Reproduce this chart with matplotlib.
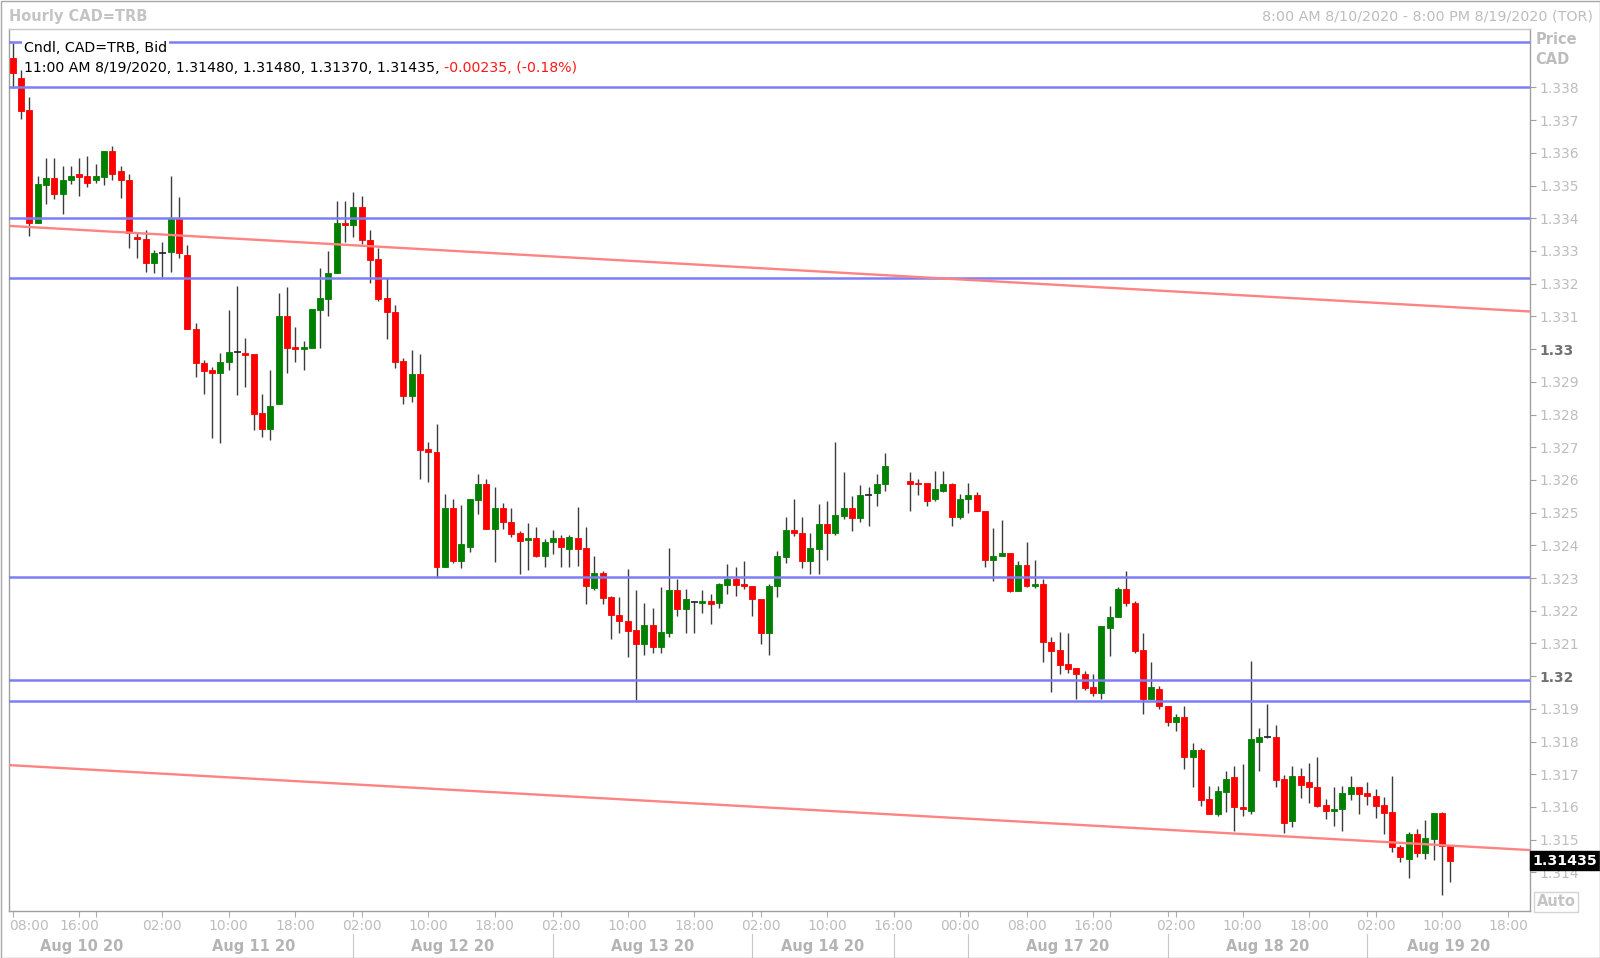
import matplotlib
matplotlib.use('Agg')
import matplotlib.pyplot as plt
from matplotlib.transforms import blended_transform_factory, ScaledTranslation
from matplotlib.lines import Line2D
from matplotlib.patches import Rectangle

plt.rcParams['font.family'] = ['DejaVu Sans']

W, H = 1600, 958

# hourly slot on the (weekend-compressed) time axis, 0 = 08:00 Aug 10 2020
slots = list(range(0, 106)) + list(range(108, 174))

opens = [
    1.33889, 1.33830, 1.33731, 1.33385, 1.33502, 1.33524, 1.33473, 1.33517, 1.33535, 1.33529,
    1.33517, 1.33527, 1.33606, 1.33545, 1.33517, 1.33343, 1.33337, 1.33262, 1.33295, 1.33298,
    1.33398, 1.33288, 1.33060, 1.32957, 1.32936, 1.32926, 1.32962, 1.32991, 1.32989, 1.32984,
    1.32804, 1.32756, 1.32831, 1.33102, 1.33006, 1.33001, 1.33004, 1.33121, 1.33153, 1.33232,
    1.33385, 1.33378, 1.33434, 1.33334, 1.33274, 1.33155, 1.33114, 1.32963, 1.32857, 1.32923,
    1.32693, 1.32686, 1.32333, 1.32515, 1.32353, 1.32394, 1.32538, 1.32589, 1.32450, 1.32513,
    1.32472, 1.32437, 1.32415, 1.32422, 1.32368, 1.32409, 1.32422, 1.32388, 1.32422, 1.32391,
    1.32268, 1.32314, 1.32243, 1.32187, 1.32168, 1.32141, 1.32098, 1.32155, 1.32090, 1.32133,
    1.32263, 1.32205, 1.32228, 1.32224, 1.32231, 1.32223, 1.32279, 1.32297, 1.32281, 1.32277,
    1.32236, 1.32131, 1.32276, 1.32365, 1.32447, 1.32437, 1.32352, 1.32389, 1.32465, 1.32437,
    1.32491, 1.32515, 1.32485, 1.32555, 1.32561, 1.32587,
    1.32597, 1.32592, 1.32590, 1.32541, 1.32567, 1.32587, 1.32486, 1.32541, 1.32554, 1.32506,
    1.32355, 1.32367, 1.32375, 1.32261, 1.32340, 1.32276, 1.32282, 1.32105, 1.32080, 1.32036,
    1.32024, 1.32005, 1.31968, 1.31949, 1.32146, 1.32180, 1.32265, 1.32225, 1.32080, 1.31929,
    1.31960, 1.31910, 1.31859, 1.31876, 1.31752, 1.31774, 1.31624, 1.31578, 1.31647, 1.31690,
    1.31601, 1.31588, 1.31799, 1.31815, 1.31815, 1.31684, 1.31558, 1.31696, 1.31675, 1.31662,
    1.31606, 1.31587, 1.31593, 1.31641, 1.31662, 1.31643, 1.31634, 1.31606, 1.31585, 1.31476,
    1.31441, 1.31516, 1.31460, 1.31502, 1.31580, 1.31480,
]
highs = [
    1.33935, 1.33855, 1.33770, 1.33529, 1.33585, 1.33585, 1.33560, 1.33560, 1.33585, 1.33590,
    1.33565, 1.33606, 1.33621, 1.33560, 1.33535, 1.33359, 1.33364, 1.33303, 1.33326, 1.33530,
    1.33465, 1.33318, 1.33081, 1.32967, 1.32946, 1.32989, 1.33121, 1.33193, 1.33033, 1.32984,
    1.32862, 1.32936, 1.33172, 1.33189, 1.33068, 1.33025, 1.33123, 1.33247, 1.33300, 1.33454,
    1.33454, 1.33479, 1.33468, 1.33364, 1.33308, 1.33216, 1.33135, 1.32972, 1.32997, 1.32984,
    1.32717, 1.32771, 1.32557, 1.32541, 1.32523, 1.32541, 1.32618, 1.32602, 1.32577, 1.32528,
    1.32513, 1.32444, 1.32467, 1.32457, 1.32418, 1.32447, 1.32431, 1.32431, 1.32516, 1.32457,
    1.32367, 1.32321, 1.32245, 1.32243, 1.32327, 1.32263, 1.32223, 1.32207, 1.32271, 1.32391,
    1.32297, 1.32266, 1.32230, 1.32263, 1.32251, 1.32284, 1.32342, 1.32335, 1.32353, 1.32277,
    1.32236, 1.32281, 1.32383, 1.32486, 1.32542, 1.32486, 1.32437, 1.32526, 1.32535, 1.32715,
    1.32623, 1.32552, 1.32584, 1.32577, 1.32618, 1.32681,
    1.32623, 1.32602, 1.32590, 1.32627, 1.32627, 1.32590, 1.32556, 1.32591, 1.32564, 1.32506,
    1.32452, 1.32477, 1.32375, 1.32353, 1.32411, 1.32355, 1.32297, 1.32121, 1.32136, 1.32133,
    1.32024, 1.32016, 1.32006, 1.32153, 1.32215, 1.32271, 1.32321, 1.32231, 1.32133, 1.32042,
    1.31970, 1.31910, 1.31884, 1.31910, 1.31794, 1.31779, 1.31664, 1.31664, 1.31711, 1.31725,
    1.31731, 1.32046, 1.31840, 1.31915, 1.31850, 1.31698, 1.31725, 1.31720, 1.31733, 1.31752,
    1.31623, 1.31662, 1.31664, 1.31696, 1.31662, 1.31675, 1.31654, 1.31629, 1.31696, 1.31483,
    1.31524, 1.31531, 1.31560, 1.31580, 1.31585, 1.31480,
]
lows = [
    1.33797, 1.33703, 1.33347, 1.33385, 1.33444, 1.33458, 1.33412, 1.33505, 1.33468, 1.33497,
    1.33509, 1.33502, 1.33517, 1.33461, 1.33308, 1.33280, 1.33237, 1.33232, 1.33221, 1.33237,
    1.33278, 1.33060, 1.32916, 1.32862, 1.32727, 1.32712, 1.32936, 1.32860, 1.32885, 1.32753,
    1.32732, 1.32722, 1.32831, 1.32926, 1.32962, 1.32936, 1.33002, 1.33004, 1.33101, 1.33232,
    1.33326, 1.33342, 1.33321, 1.33203, 1.33148, 1.33031, 1.32941, 1.32831, 1.32837, 1.32602,
    1.32595, 1.32299, 1.32333, 1.32345, 1.32330, 1.32380, 1.32496, 1.32450, 1.32350, 1.32450,
    1.32424, 1.32312, 1.32324, 1.32365, 1.32333, 1.32373, 1.32333, 1.32335, 1.32338, 1.32219,
    1.32263, 1.32219, 1.32112, 1.32131, 1.32059, 1.31927, 1.32065, 1.32070, 1.32070, 1.32121,
    1.32185, 1.32131, 1.32131, 1.32194, 1.32159, 1.32207, 1.32250, 1.32245, 1.32265, 1.32185,
    1.32098, 1.32065, 1.32243, 1.32345, 1.32428, 1.32332, 1.32312, 1.32312, 1.32355, 1.32432,
    1.32479, 1.32445, 1.32470, 1.32459, 1.32520, 1.32566,
    1.32505, 1.32555, 1.32520, 1.32537, 1.32564, 1.32459, 1.32480, 1.32498, 1.32506, 1.32335,
    1.32291, 1.32367, 1.32258, 1.32261, 1.32274, 1.32270, 1.32044, 1.31952, 1.32005, 1.32008,
    1.31929, 1.31957, 1.31940, 1.31929, 1.32063, 1.32180, 1.32214, 1.32070, 1.31883, 1.31929,
    1.31898, 1.31848, 1.31833, 1.31715, 1.31662, 1.31604, 1.31578, 1.31572, 1.31583, 1.31525,
    1.31572, 1.31578, 1.31710, 1.31812, 1.31662, 1.31521, 1.31538, 1.31628, 1.31613, 1.31599,
    1.31563, 1.31543, 1.31527, 1.31621, 1.31577, 1.31606, 1.31565, 1.31517, 1.31461, 1.31432,
    1.31382, 1.31446, 1.31441, 1.31438, 1.31331, 1.31370,
]
closes = [
    1.33845, 1.33729, 1.33385, 1.33504, 1.33524, 1.33473, 1.33517, 1.33529, 1.33527, 1.33509,
    1.33529, 1.33606, 1.33535, 1.33517, 1.33354, 1.33337, 1.33262, 1.33293, 1.33295, 1.33398,
    1.33293, 1.33060, 1.32957, 1.32934, 1.32926, 1.32962, 1.32992, 1.32991, 1.32982, 1.32801,
    1.32756, 1.32827, 1.33102, 1.33004, 1.33001, 1.33006, 1.33123, 1.33155, 1.33232, 1.33385,
    1.33378, 1.33434, 1.33334, 1.33272, 1.33153, 1.33112, 1.32961, 1.32857, 1.32923, 1.32691,
    1.32685, 1.32333, 1.32515, 1.32353, 1.32403, 1.32541, 1.32589, 1.32450, 1.32513, 1.32470,
    1.32434, 1.32414, 1.32422, 1.32367, 1.32411, 1.32422, 1.32394, 1.32425, 1.32388, 1.32276,
    1.32314, 1.32240, 1.32187, 1.32167, 1.32138, 1.32098, 1.32155, 1.32090, 1.32134, 1.32263,
    1.32205, 1.32236, 1.32228, 1.32230, 1.32220, 1.32281, 1.32297, 1.32279, 1.32276, 1.32235,
    1.32131, 1.32277, 1.32367, 1.32447, 1.32437, 1.32352, 1.32391, 1.32465, 1.32437, 1.32493,
    1.32515, 1.32485, 1.32555, 1.32555, 1.32587, 1.32643,
    1.32587, 1.32587, 1.32536, 1.32571, 1.32587, 1.32486, 1.32541, 1.32554, 1.32506, 1.32355,
    1.32367, 1.32375, 1.32261, 1.32340, 1.32276, 1.32282, 1.32105, 1.32078, 1.32034, 1.32022,
    1.32005, 1.31965, 1.31949, 1.32153, 1.32180, 1.32265, 1.32223, 1.32078, 1.31929, 1.31968,
    1.31909, 1.31859, 1.31876, 1.31752, 1.31774, 1.31621, 1.31578, 1.31650, 1.31684, 1.31599,
    1.31593, 1.31807, 1.31815, 1.31815, 1.31682, 1.31552, 1.31696, 1.31667, 1.31662, 1.31604,
    1.31587, 1.31594, 1.31644, 1.31662, 1.31641, 1.31633, 1.31604, 1.31582, 1.31476, 1.31448,
    1.31516, 1.31460, 1.31504, 1.31580, 1.31481, 1.31435,
]

# horizontal support / resistance levels
levels = [1.33940, 1.33800, 1.33400, 1.33218, 1.32303, 1.31989, 1.31923]
# trend lines: (slot_start, price_start, slot_end, price_end)
trend_upper = (-0.57, 1.33377, 182.6, 1.33115)
trend_lower = (-0.57, 1.31728, 182.6, 1.31468)

price_ticks = [1.314, 1.315, 1.316, 1.317, 1.318, 1.319, 1.320, 1.321, 1.322, 1.323,
               1.324, 1.325, 1.326, 1.327, 1.328, 1.329, 1.330, 1.331, 1.332, 1.333,
               1.334, 1.335, 1.336, 1.337, 1.338]

time_tick_slots = [0, 8, 10, 18, 26, 34, 42, 50, 58, 66, 74, 82, 90, 98, 106, 114,
                   122, 130, 132, 140, 148, 156, 164, 172, 180]
time_tick_labels = ['08:00', '16:00', '', '02:00', '10:00', '18:00', '02:00', '10:00',
                    '18:00', '02:00', '10:00', '18:00', '02:00', '10:00', '16:00',
                    '00:00', '08:00', '16:00', '', '02:00', '10:00', '18:00', '02:00',
                    '10:00', '18:00']
day_labels = ['Aug 10 20', 'Aug 11 20', 'Aug 12 20', 'Aug 13 20', 'Aug 14 20',
              'Aug 17 20', 'Aug 18 20', 'Aug 19 20']
day_starts = [-0.445, 17, 41, 65, 89, 115, 139, 163]
day_ends = [17, 41, 65, 89, 106, 139, 163, 182.59]
separators = [41, 65, 89, 106, 115, 139, 163]

last_price = 1.31435

# ---------------------------------------------------------------- layout
fig = plt.figure(figsize=(W / 100, H / 100), dpi=100)
fig.patch.set_facecolor('white')
L, R, T, B = 9, 1530, 28.5, 911
ax = fig.add_axes([L / W, 1 - B / H, (R - L) / W, (B - T) / H])
ax.set_xlim(-0.445, 182.59)
ax.set_ylim(1.312817, 1.339804)
ax.set_facecolor('white')
for s in ax.spines.values():
    s.set_color('#a0a0a0')
    s.set_linewidth(1.0)
ax.spines['top'].set_color('#c8c8c8')

# ---------------------------------------------------------------- candles
GREEN, RED = '#008000', '#ff0000'
ax.vlines(slots, lows, highs, color='#3c3c3c', linewidth=1.0, zorder=2)
body_x, body_b, body_h, body_c = [], [], [], []
doji_x, doji_y = [], []
for s, o, c in zip(slots, opens, closes):
    if abs(c - o) < 1e-9:
        doji_x.append(s)
        doji_y.append(o)
        continue
    body_x.append(s)
    body_b.append(min(o, c))
    body_h.append(abs(c - o))
    body_c.append(GREEN if c > o else RED)
ax.bar(body_x, body_h, bottom=body_b, width=0.72, color=body_c,
       edgecolor=body_c, linewidth=0.6, zorder=3)
ax.hlines(doji_y, [x - 0.42 for x in doji_x], [x + 0.42 for x in doji_x],
          color='#202020', linewidth=1.2, zorder=3)

# ---------------------------------------------------------------- lines
for lv in levels:
    ax.axhline(lv, color='#7d7df5', linewidth=1.8, zorder=4)
for tl in (trend_upper, trend_lower):
    ax.plot([tl[0], tl[2]], [tl[1], tl[3]], color='#ff8383', linewidth=1.7, zorder=4)

# ---------------------------------------------------------------- axes ticks
ax.set_xticks(time_tick_slots)
ax.set_xticklabels(time_tick_labels)
ax.tick_params(axis='x', length=4, width=0.8, color='#b0b0b0', labelcolor='#bdbdbd',
               labelsize=10, pad=2)
lbls = ax.get_xticklabels()
lbls[0].set_horizontalalignment('left')
lbls[0].set_transform(lbls[0].get_transform() + ScaledTranslation(-4 / 100, 0, fig.dpi_scale_trans))

ax.yaxis.tick_right()
ax.set_yticks(price_ticks)
ylabels = []
for p in price_ticks:
    if abs(p * 100 - round(p * 100)) < 1e-6:
        ylabels.append('%.2f' % p)
    else:
        ylabels.append('%.3f' % p)
ax.set_yticklabels(ylabels)
ax.tick_params(axis='y', length=4, width=0.8, color='#a0a0a0', labelcolor='#bdbdbd',
               labelsize=10, pad=3)
for t, lab in zip(ax.get_yticklabels(), ylabels):
    if len(lab) == 4:
        t.set_fontweight('bold')
        t.set_color('#707070')

# separators and day labels in the date row
bt = blended_transform_factory(ax.transData, fig.transFigure)
for s in separators:
    ax.add_line(Line2D([s, s], [1 - 912 / H, 1 - 916 / H], transform=bt,
                       color='#b0b0b0', linewidth=0.8, clip_on=False))
    ax.add_line(Line2D([s, s], [1 - 934 / H, 1 - 957 / H], transform=bt,
                       color='#c8c8c8', linewidth=0.8, clip_on=False))
for lab, a, b in zip(day_labels, day_starts, day_ends):
    ax.text((a + b) / 2, 1 - 946 / H, lab, transform=bt, ha='center', va='center',
            fontsize=10.5, fontweight='bold', color='#b4b4b4', clip_on=False)

# last price box on the price axis
pt = blended_transform_factory(ax.transAxes, ax.transData)
ax.text(1.0 + 2.5 / (R - L), last_price, '%.5f' % last_price, transform=pt,
        ha='left', va='center', fontsize=10.3, fontweight='bold', color='white',
        bbox=dict(boxstyle='square,pad=0.18', fc='black', ec='black'),
        zorder=10, clip_on=False)

# ---------------------------------------------------------------- texts
fig.text(9 / W, 1 - 20.7 / H, 'Hourly CAD=TRB', ha='left', va='baseline',
         fontsize=10.5, fontweight='bold', color='#c4c4c4')
fig.text(1593 / W, 1 - 21 / H, '8:00 AM 8/10/2020 - 8:00 PM 8/19/2020 (TOR)',
         ha='right', va='baseline', fontsize=10.3, color='#bdbdbd')
fig.text(1536 / W, 1 - 44 / H, 'Price', ha='left', va='baseline', fontsize=10.5,
         fontweight='bold', color='#bdbdbd')
fig.text(1535 / W, 1 - 64.5 / H, 'CAD', ha='left', va='baseline', fontsize=10.5,
         fontweight='bold', color='#bdbdbd')
fig.text(1556 / W, 1 - 902 / H, 'Auto', ha='center', va='center', fontsize=10.5,
         fontweight='bold', color='#c4c4c4',
         bbox=dict(boxstyle='square,pad=0.15', fc='white', ec='#d4d4d4', lw=1))

t1 = fig.text(24 / W, 1 - 52 / H, 'Cndl, CAD=TRB, Bid', ha='left', va='baseline',
              fontsize=10.2, color='black', zorder=20,
              bbox=dict(boxstyle='square,pad=0.12', fc='white', ec='none'))
t2 = fig.text(24 / W, 1 - 71.5 / H,
              '11:00 AM 8/19/2020, 1.31480, 1.31480, 1.31370, 1.31435,',
              ha='left', va='baseline', fontsize=10.2, color='black', zorder=20)
fig.add_artist(matplotlib.text.Annotation('-0.00235, (-0.18%)', xy=(1, 0), xycoords=t2,
                                          xytext=(3.3, 0), textcoords='offset points',
                                          ha='left', va='bottom', fontsize=10.2,
                                          color='#ff1a1a', zorder=20))

# outer frame
fig.add_artist(Rectangle((0.5 / W, 0.5 / H), 1 - 1 / W, 1 - 1 / H, transform=fig.transFigure,
                         fill=False, ec='#a8a8a8', lw=1))

fig.savefig('out.png', dpi=100, facecolor='white')
